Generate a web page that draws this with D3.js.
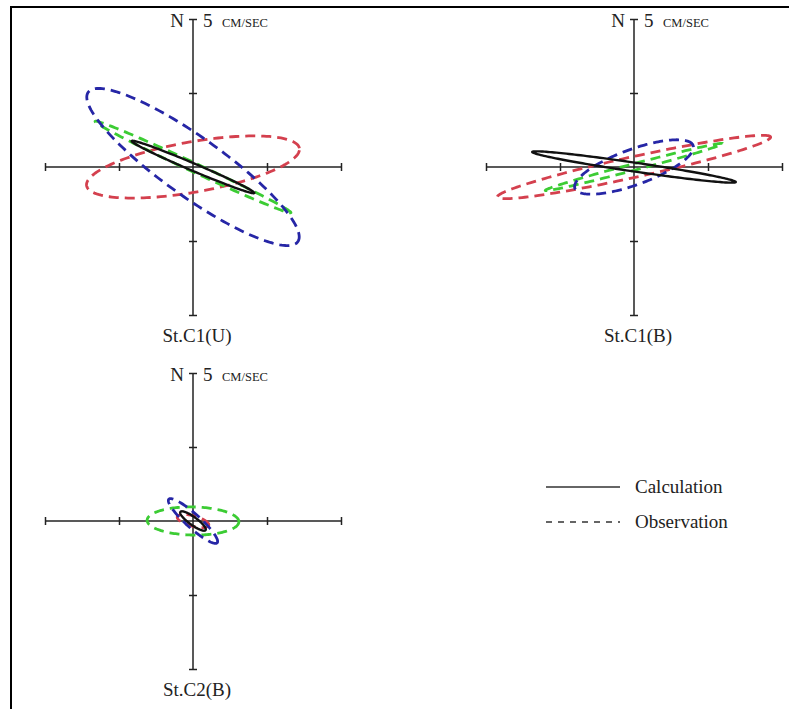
<!DOCTYPE html>
<html>
<head>
<meta charset="utf-8">
<script src="https://cdn.jsdelivr.net/npm/d3@7"></script>
<style>
  body { margin: 0; background: #fff; }
  svg { display: block; }
  text { font-family: "Liberation Serif", "DejaVu Serif", serif; fill: #222; }
</style>
</head>
<body>
<div id="chart"></div>
<script>
const width = 789;
const height = 709;

// stations and where each one sits on the page
const stations = ['St.C1(U)', 'St.C1(B)', 'St.C2(B)'];
const stationCx = [193, 634, 193];
const stationCy = [167, 167, 521];

// ellipse series: calculated one first, then the observed ones
const seriesKeys = ['calc', 'obsRed', 'obsGreen', 'obsBlue'];
const seriesColor = { calc: '#111', obsRed: '#d4404e', obsGreen: '#3ccc34', obsBlue: '#2626a6' };

// semi-major / semi-minor axis (cm/sec) and inclination (deg, ccw from east)
const majorC1U = [4.5, 7.3, 7.3, 8.7];
const minorC1U = [0.25, 1.7, 0.3, 2.0];
const incC1U = [-23, 10, -25, -35.5];

const majorC1B = [6.95, 9.45, 6.2, 4.25];
const minorC1B = [0.3, 0.7, 0.22, 1.2];
const incC1B = [-8.4, 12.4, 14.8, 20];

const majorC2B = [1.05, 1.1, 3.1, 2.2];
const minorC2B = [0.27, 0.35, 0.95, 0.47];
const incC2B = [-36, -15, -1, -42];

const axisTicks = [-10, -5, 5, 10];
const axisMax = 10;

const legendLabels = ['Calculation', 'Observation'];

const majors = [majorC1U, majorC1B, majorC2B];
const minors = [minorC1U, minorC1B, minorC2B];
const incs = [incC1U, incC1B, incC2B];

const svg = d3.select('#chart')
    .append('svg')
    .attr('width', width)
    .attr('height', height);

// page frame (top + left edges)
svg.append('path')
    .attr('d', `M11,${height} L11,7 L${width},7`)
    .attr('fill', 'none')
    .attr('stroke', '#000')
    .attr('stroke-width', 2);

const half = 148;

function ellipsePoints(a, b, deg) {
    const th = deg * Math.PI / 180;
    return d3.range(0, 181).map((i) => {
        const t = i / 180 * 2 * Math.PI;
        const u = a * Math.cos(t), v = b * Math.sin(t);
        return [u * Math.cos(th) - v * Math.sin(th), u * Math.sin(th) + v * Math.cos(th)];
    });
}

stations.forEach((name, si) => {
    const cx = stationCx[si], cy = stationCy[si];
    const x = d3.scaleLinear().domain([-axisMax, axisMax]).range([cx - half, cx + half]);
    const y = d3.scaleLinear().domain([-axisMax, axisMax]).range([cy + half, cy - half]);

    const g = svg.append('g');

    // cross-shaped axes
    g.append('line')
        .attr('x1', x(-axisMax)).attr('x2', x(axisMax))
        .attr('y1', y(0)).attr('y2', y(0))
        .attr('stroke', '#222').attr('stroke-width', 1.5);
    g.append('line')
        .attr('x1', x(0)).attr('x2', x(0))
        .attr('y1', y(-axisMax)).attr('y2', y(axisMax))
        .attr('stroke', '#222').attr('stroke-width', 1.5);

    const xAxis = d3.axisBottom(x).tickValues(axisTicks).tickSize(8).tickFormat('');
    const yAxis = d3.axisRight(y).tickValues(axisTicks).tickSize(8).tickFormat('');

    g.append('g')
        .attr('transform', `translate(0, ${y(0) - 4})`)
        .call(xAxis)
        .call((s) => s.select('.domain').remove())
        .selectAll('line').attr('stroke', '#222').attr('stroke-width', 1.5);

    g.append('g')
        .attr('transform', `translate(${x(0) - 4}, 0)`)
        .call(yAxis)
        .call((s) => s.select('.domain').remove())
        .selectAll('line').attr('stroke', '#222').attr('stroke-width', 1.5);

    // scale note at the north end
    const top = y(axisMax);
    g.append('text')
        .attr('x', x(0) - 9).attr('y', top + 8)
        .attr('text-anchor', 'end')
        .style('font-size', '19px')
        .text('N');
    g.append('text')
        .attr('x', x(0) + 10).attr('y', top + 8)
        .style('font-size', '19px')
        .text('5');
    g.append('text')
        .attr('x', x(0) + 29).attr('y', top + 8)
        .style('font-size', '12.5px')
        .text('CM/SEC');

    // station name below
    g.append('text')
        .attr('x', x(0) + 4).attr('y', y(-axisMax) + 27)
        .attr('text-anchor', 'middle')
        .style('font-size', '19px')
        .text(name);

    const line = d3.line().x((d) => x(d[0])).y((d) => y(d[1]));

    // observed first, calculated on top
    const order = [1, 2, 3, 0];
    order.forEach((k) => {
        const key = seriesKeys[k];
        g.append('path')
            .attr('d', line(ellipsePoints(majors[si][k], minors[si][k], incs[si][k])) + 'Z')
            .attr('fill', 'none')
            .attr('stroke', seriesColor[key])
            .attr('stroke-width', key === 'calc' ? 2.4 : 2.8)
            .attr('stroke-dasharray', key === 'calc' ? null : '10,6');
    });
});

// legend
const legendY = [487, 522];
const legend = svg.append('g');
legendLabels.forEach((label, i) => {
    legend.append('line')
        .attr('x1', 546).attr('x2', 620)
        .attr('y1', legendY[i]).attr('y2', legendY[i])
        .attr('stroke', '#333')
        .attr('stroke-width', 1.5)
        .attr('stroke-dasharray', i === 0 ? null : '6,6');
    legend.append('text')
        .attr('x', 635).attr('y', legendY[i] + 6)
        .style('font-size', '19px')
        .text(label);
});
</script>
</body>
</html>
